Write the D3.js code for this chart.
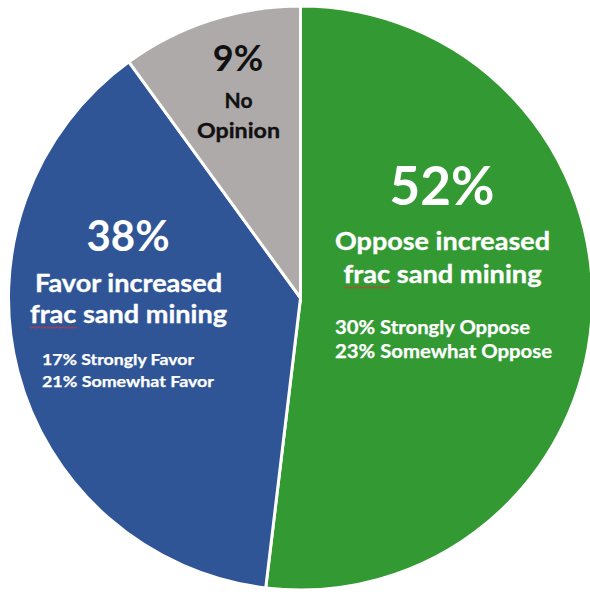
<!DOCTYPE html>
<html>
<head>
<meta charset="utf-8">
<script src="https://cdn.jsdelivr.net/npm/d3@7"></script>
<style>
  html, body { margin: 0; padding: 0; background: #ffffff; }
  svg { display: block; }
  text { font-family: Lato, "Open Sans", sans-serif; font-weight: bold; }
</style>
</head>
<body>
<svg id="chart" width="590" height="592"></svg>
<script>
// ---- data ----
const categories = ["Oppose increased frac sand mining", "Favor increased frac sand mining", "No Opinion"];
const sliceValues = [51.9, 38.1, 10.0];          // slice sizes
const percentLabels = ["52%", "38%", "9%"];
const headlineLines = [["Oppose increased", "frac sand mining"], ["Favor increased", "frac sand mining"], ["No", "Opinion"]];
const detailLines = [["30% Strongly Oppose", "23% Somewhat Oppose"], ["17% Strongly Favor", "21% Somewhat Favor"], []];

// ---- styles ----
const sliceColors = ["#339933", "#2f5597", "#aeaaaa"];
const textColors = ["#ffffff", "#ffffff", "#111111"];

const svg = d3.select("#chart");
const cx = 300.5, cy = 298, R = 292;

const pie = d3.pie().sort(null).value(d => d.value).startAngle(0).endAngle(2 * Math.PI);
const arcs = pie(categories.map((c, i) => ({ name: c, value: sliceValues[i], i })));
const arc = d3.arc().innerRadius(0).outerRadius(R);

const g = svg.append("g").attr("transform", `translate(${cx},${cy})`);
g.selectAll("path.slice")
  .data(arcs)
  .join("path")
  .attr("class", "slice")
  .attr("d", arc)
  .attr("fill", d => sliceColors[d.data.i])
  .attr("stroke", "#ffffff")
  .attr("stroke-width", 3)
  .attr("stroke-linejoin", "miter");

// ---- label layout (absolute positions / rendered widths within the svg) ----
const layout = [
  { pct: { x: 442, y: 205, size: 53 },
    head: { x: 442.5, ys: [250, 283], size: 24.5, widths: [215, 198] },
    detail: { x: 335, ys: [334, 358], size: 18, widths: [195, 217] } },
  { pct: { x: 128, y: 251, size: 42 },
    head: { x: 128.5, ys: [292, 323], size: 24, widths: [187, 197] },
    detail: { x: 42, ys: [365, 387], size: 15.5, widths: [152, 172] } },
  { pct: { x: 238, y: 71, size: 36 },
    head: { x: 238.5, ys: [108, 138], size: 21, widths: [28, 83] },
    detail: null }
];

function fitText(t, target) {
  const natural = t.node().getComputedTextLength();
  t.attr("textLength", target).attr("lengthAdjust", "spacingAndGlyphs");
  return natural;
}

const labels = svg.append("g");
layout.forEach((L, i) => {
  labels.append("text")
    .attr("x", L.pct.x).attr("y", L.pct.y)
    .attr("text-anchor", "middle")
    .attr("font-size", L.pct.size)
    .attr("fill", textColors[i])
    .text(percentLabels[i]);

  headlineLines[i].forEach((line, j) => {
    const t = labels.append("text")
      .attr("x", L.head.x).attr("y", L.head.ys[j])
      .attr("text-anchor", "middle")
      .attr("font-size", L.head.size)
      .attr("fill", textColors[i])
      .attr("stroke", textColors[i])
      .attr("stroke-width", 0.35)
      .text(line);
    const target = L.head.widths[j];
    const sub = line.startsWith("frac") ? t.node().getSubStringLength(0, 4) : 0;
    const natural = fitText(t, target);
    // spell-check squiggle under "frac"
    if (line.startsWith("frac")) {
      const w = sub * target / natural;
      const x0 = L.head.x - target / 2;
      const y0 = L.head.ys[j] + 4;
      const pts = [];
      for (let k = 0; k <= Math.round(w / 1.5); k++) {
        pts.push([x0 + k * 1.5, y0 + (k % 2 ? 1.2 : -0.2)]);
      }
      labels.append("path")
        .attr("d", d3.line()(pts))
        .attr("fill", "none")
        .attr("stroke", "#e03131")
        .attr("stroke-width", 1);
    }
  });

  if (L.detail) {
    detailLines[i].forEach((line, j) => {
      const t = labels.append("text")
        .attr("x", L.detail.x).attr("y", L.detail.ys[j])
        .attr("text-anchor", "start")
        .attr("font-size", L.detail.size)
        .attr("fill", textColors[i])
        .attr("stroke", textColors[i])
        .attr("stroke-width", 0.25)
        .text(line);
      fitText(t, L.detail.widths[j]);
    });
  }
});
</script>
</body>
</html>
